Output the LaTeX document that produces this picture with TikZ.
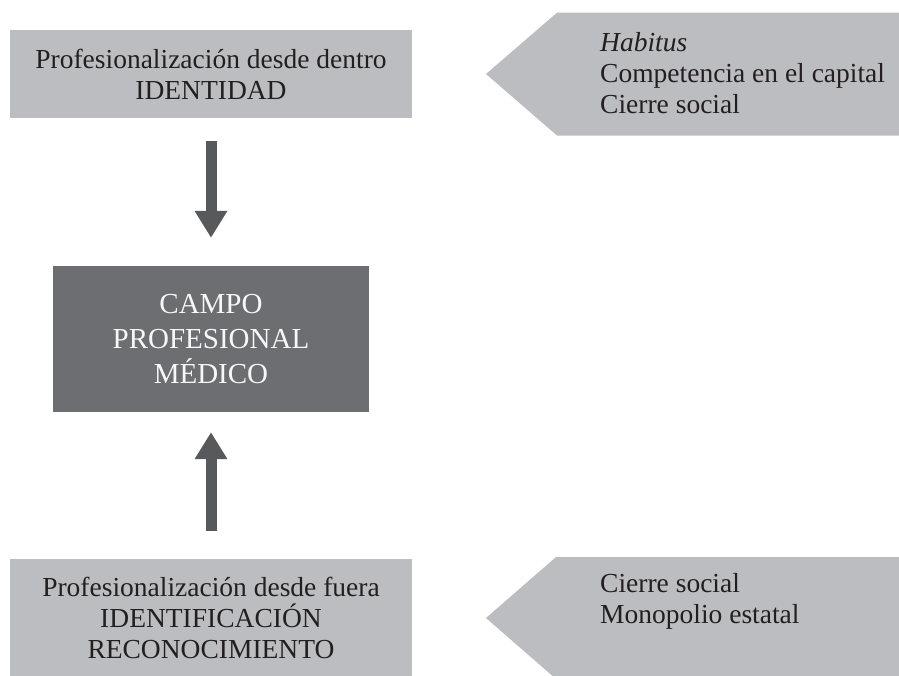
\documentclass[tikz,border=0pt]{standalone}
\usepackage{fontspec}
\setmainfont{Liberation Serif}
\usetikzlibrary{arrows.meta}
\definecolor{boxgray}{HTML}{BCBDC0}
\definecolor{darkbox}{HTML}{6D6E71}
\definecolor{arrowgray}{HTML}{58595B}
\definecolor{inkblack}{HTML}{231F20}
\begin{document}
\begin{tikzpicture}[
    x=1pt, y=-1pt,
    every node/.style={inner sep=0pt, text=inkblack, font=\fontsize{27.5}{31}\selectfont, align=center},
    sidebox/.style={fill=boxgray, minimum width=402pt},
    fieldbox/.style={fill=darkbox, minimum width=316pt, minimum height=146pt, text=white!88!boxgray, font=\fontsize{29}{35}\selectfont},
    factors/.style={anchor=west, align=left},
    blockarrow/.style={draw=arrowgray, line width=11pt, -{Triangle[width=31pt, length=27pt]}}
    ]
    \useasboundingbox (0,0) rectangle (899,675);
    \clip (0,0) rectangle (899,675);

    \node[sidebox, minimum height=88pt] (dentro) at (211,74)
      {Profesionalización desde dentro\\IDENTIDAD};
    \node[fieldbox] (campo) at (211,339)
      {CAMPO\\PROFESIONAL\\MÉDICO};
    \node[sidebox, minimum height=118pt] (fuera) at (211,618)
      {Profesionalización desde fuera\\IDENTIFICACIÓN\\RECONOCIMIENTO};

    \draw[blockarrow, shorten <=23pt, shorten >=28pt] (dentro) -- (campo);
    \draw[blockarrow, shorten <=28pt, shorten >=20pt] (fuera) -- (campo);

    \fill[boxgray] (899,12.7) -- (557,12.7) -- (486,74) -- (557,135.5) -- (899,135.5) -- cycle;
    \fill[boxgray] (899,557) -- (556,557) -- (486,618) -- (556,679) -- (899,679) -- cycle;

    \node[factors] (habitus) at (600,73)
      {\textit{Habitus}\\Competencia en el capital\\Cierre social};
    \node[factors] (cierre) at (600,601)
      {Cierre social\\Monopolio estatal};
\end{tikzpicture}
\end{document}
